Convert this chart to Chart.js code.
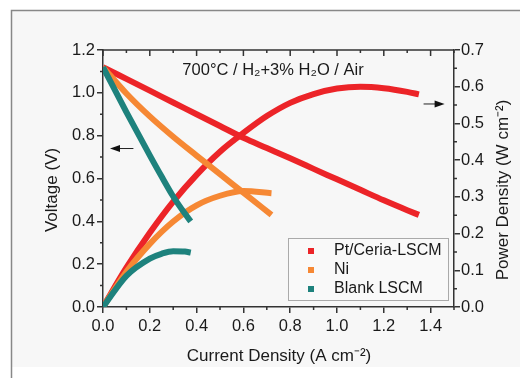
<!DOCTYPE html>
<html>
<head>
<meta charset="utf-8">
<script src="https://cdn.jsdelivr.net/npm/chart.js@4.4.0/dist/chart.umd.min.js"></script>
<style>
  html, body { margin: 0; padding: 0; background: #fff; }
  #wrap { width: 520px; height: 378px; }
</style>
</head>
<body>
<div id="wrap"><canvas id="fcChart" width="520" height="378"></canvas></div>
<script>
// Values
var seriesNames = ['Pt/Ceria-LSCM', 'Ni', 'Blank LSCM'];

var ptCurrent = [0, 0.1, 0.2, 0.3, 0.4, 0.5, 0.6, 0.7, 0.8, 0.9, 1.0, 1.1, 1.2, 1.3, 1.35];
var ptVoltage = [1.12, 1.065, 1.01, 0.955, 0.90, 0.845, 0.79, 0.742, 0.694, 0.645, 0.596, 0.547, 0.498, 0.452, 0.43];
var ptPower = [0, 0.107, 0.202, 0.287, 0.36, 0.423, 0.474, 0.52, 0.556, 0.58, 0.595, 0.60, 0.596, 0.586, 0.579];

var niCurrent = [0, 0.1, 0.2, 0.3, 0.4, 0.5, 0.6, 0.72];
var niVoltage = [1.12, 0.997, 0.89, 0.795, 0.707, 0.62, 0.534, 0.43];
var niPower = [0, 0.096, 0.172, 0.233, 0.277, 0.303, 0.316, 0.31];

var blankCurrent = [0, 0.1, 0.2, 0.25, 0.3, 0.35, 0.375];
var blankVoltage = [1.12, 0.91, 0.708, 0.61, 0.516, 0.436, 0.40];
var blankPower = [0, 0.085, 0.132, 0.145, 0.152, 0.151, 0.148];

var colors = ['rgb(236,36,40)', 'rgb(246,136,52)', 'rgb(30,130,125)'];
var fontName = '"Liberation Sans", Arial, sans-serif';
var axisColor = '#333';

function pts(xs, ys) {
    return xs.map(function (x, i) { return { x: x, y: ys[i] }; });
}

function lineSet(label, xs, ys, color, axis) {
    return {
        label: label,
        data: pts(xs, ys),
        borderColor: color,
        backgroundColor: color,
        borderWidth: 6,
        pointRadius: 0,
        fill: false,
        cubicInterpolationMode: 'monotone',
        yAxisID: axis
    };
}

// Frame, minor ticks, arrows, texts and legend
var decorPlugin = {
    id: 'decor',
    beforeDraw: function (chart) {
        var c = chart.ctx;
        c.save();
        c.fillStyle = '#fff';
        c.fillRect(0, 0, chart.width, chart.height);
        c.fillStyle = '#f7f7f7';
        c.fillRect(12, 11, chart.width - 12, 356);
        c.strokeStyle = '#888';
        c.lineWidth = 1.5;
        c.beginPath();
        c.moveTo(11.5, chart.height);
        c.lineTo(11.5, 10.5);
        c.lineTo(chart.width, 10.5);
        c.stroke();
        c.restore();
    },
    afterDraw: function (chart) {
        var c = chart.ctx;
        var a = chart.chartArea;
        var sx = chart.scales.x, sy = chart.scales.y, sp = chart.scales.y1;
        c.save();
        c.strokeStyle = axisColor;
        c.lineWidth = 1.5;
        // top border
        c.beginPath();
        c.moveTo(a.left, a.top);
        c.lineTo(a.right, a.top);
        c.stroke();
        c.beginPath();
        var v, p;
        // x minor + top ticks
        for (v = 0; v <= 1.5001; v += 0.1) {
            p = sx.getPixelForValue(v);
            var major = Math.round(v * 10) % 2 === 0;
            if (!major) { c.moveTo(p, a.bottom); c.lineTo(p, a.bottom + 3); }
            c.moveTo(p, a.top); c.lineTo(p, a.top + (major ? 6 : 3));
        }
        // left minor
        for (v = 0.1; v < 1.2; v += 0.2) {
            p = sy.getPixelForValue(v);
            c.moveTo(a.left, p); c.lineTo(a.left - 3, p);
        }
        // right minor
        for (v = 0.05; v < 0.7; v += 0.1) {
            p = sp.getPixelForValue(v);
            c.moveTo(a.right, p); c.lineTo(a.right + 3, p);
        }
        c.stroke();

        // arrows
        function arrow(x1, x2, y, yScale) {
            var px1 = sx.getPixelForValue(x1), px2 = sx.getPixelForValue(x2);
            var py = yScale.getPixelForValue(y);
            var dir = px2 > px1 ? 1 : -1;
            c.strokeStyle = '#222';
            c.fillStyle = '#111';
            c.lineWidth = 1;
            c.beginPath();
            c.moveTo(px1, py); c.lineTo(px2 - dir * 6, py);
            c.stroke();
            c.beginPath();
            c.moveTo(px2, py);
            c.lineTo(px2 - dir * 10, py - 3.5);
            c.lineTo(px2 - dir * 10, py + 3.5);
            c.closePath();
            c.fill();
        }
        arrow(0.13, 0.03, 0.74, sy);
        arrow(1.37, 1.46, 0.553, sp);

        // texts
        c.fillStyle = '#1a1a1a';
        c.textAlign = 'center';
        c.textBaseline = 'middle';
        c.font = '16.5px ' + fontName;
        c.fillText('700°C / H₂+3% H₂O / Air', 273, 70);
        c.font = '17px ' + fontName;
        c.fillText('Current Density (A cm⁻²)', 279, 356);
        c.save();
        c.translate(52, 190);
        c.rotate(-Math.PI / 2);
        c.fillText('Voltage (V)', 0, 0);
        c.restore();
        c.save();
        c.translate(503, 190);
        c.rotate(-Math.PI / 2);
        c.fillText('Power Density (W cm⁻²)', 0, 0);
        c.restore();

        // legend
        var lx = 288, ly = 238, lw = 160, lh = 62;
        c.fillStyle = '#f9f9f9';
        c.fillRect(lx, ly, lw, lh);
        c.strokeStyle = '#aaa';
        c.lineWidth = 1;
        c.strokeRect(lx + 0.5, ly + 0.5, lw, lh);
        c.textAlign = 'left';
        c.font = '16px ' + fontName;
        seriesNames.forEach(function (name, i) {
            var yy = 251 + i * 19;
            c.fillStyle = colors[i];
            c.fillRect(308, yy - 3, 6, 6);
            c.fillStyle = '#1a1a1a';
            c.fillText(name, 334, yy);
        });
        c.restore();
    }
};

var ctx = document.getElementById('fcChart').getContext('2d');

var tickFont = { family: fontName, size: 16.5 };

var fcChart = new Chart(ctx, {
    type: 'line',
    data: {
        datasets: [
            lineSet(seriesNames[2], blankCurrent, blankVoltage, colors[2], 'y'),
            lineSet(seriesNames[2], blankCurrent, blankPower, colors[2], 'y1'),
            lineSet(seriesNames[1], niCurrent, niVoltage, colors[1], 'y'),
            lineSet(seriesNames[1], niCurrent, niPower, colors[1], 'y1'),
            lineSet(seriesNames[0], ptCurrent, ptVoltage, colors[0], 'y'),
            lineSet(seriesNames[0], ptCurrent, ptPower, colors[0], 'y1')
        ]
    },
    options: {
        responsive: false,
        animation: false,
        layout: { padding: { top: 50, left: 0, right: 0, bottom: 0 } },
        plugins: {
            legend: { display: false },
            tooltip: { enabled: false }
        },
        scales: {
            x: {
                type: 'linear',
                min: 0,
                max: 1.5,
                afterFit: function (s) { s.height = 71; },
                ticks: {
                    stepSize: 0.2,
                    includeBounds: false,
                    padding: 4,
                    color: '#1a1a1a',
                    font: tickFont,
                    maxRotation: 0,
                    callback: function (v) { return v.toFixed(1); }
                },
                grid: { drawOnChartArea: false, tickLength: 6, color: axisColor, lineWidth: 1.5 },
                border: { display: true, color: axisColor, width: 1.5 }
            },
            y: {
                position: 'left',
                min: 0,
                max: 1.2,
                afterFit: function (s) { s.width = 103; },
                ticks: {
                    stepSize: 0.2,
                    padding: 2,
                    color: '#1a1a1a',
                    font: tickFont,
                    callback: function (v) { return v.toFixed(1); }
                },
                grid: { drawOnChartArea: false, tickLength: 6, color: axisColor, lineWidth: 1.5 },
                border: { display: true, color: axisColor, width: 1.5 }
            },
            y1: {
                position: 'right',
                min: 0,
                max: 0.7,
                afterFit: function (s) { s.width = 66; },
                ticks: {
                    stepSize: 0.1,
                    padding: 1,
                    color: '#1a1a1a',
                    font: tickFont,
                    callback: function (v) { return v.toFixed(1); }
                },
                grid: { drawOnChartArea: false, tickLength: 6, color: axisColor, lineWidth: 1.5 },
                border: { display: true, color: axisColor, width: 1.5 }
            }
        }
    },
    plugins: [decorPlugin]
});
</script>
</body>
</html>
